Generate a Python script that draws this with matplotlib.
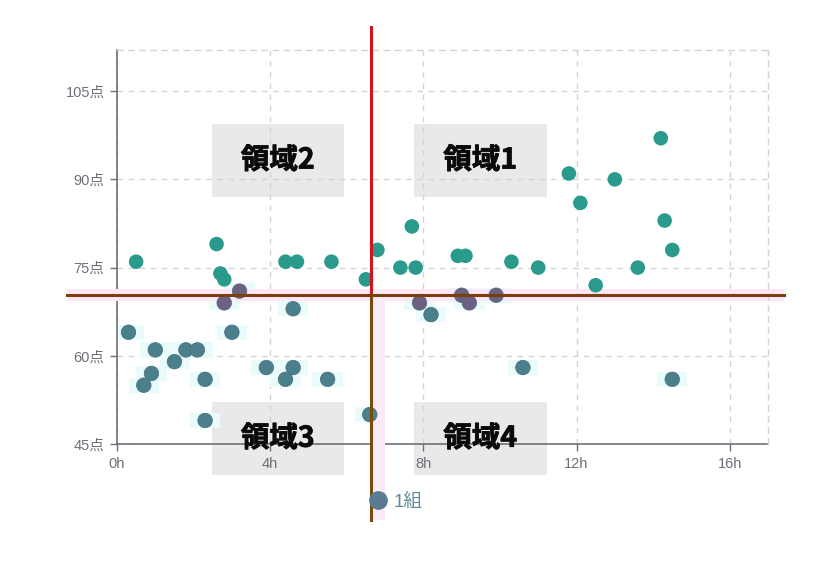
import matplotlib
matplotlib.use('Agg')
import matplotlib.pyplot as plt
import matplotlib.patheffects as pe
from matplotlib.lines import Line2D
from matplotlib.patches import Rectangle
from matplotlib.path import Path
import numpy as np

plt.rcParams['font.family'] = ['Liberation Sans', 'Noto Sans CJK JP', 'DejaVu Sans']

# ---- data ----
upper_x = [0.5, 2.6, 2.7, 2.8, 4.4, 4.7, 5.6, 6.5, 6.8, 7.4, 7.7, 7.8, 8.9, 9.1,
           10.3, 11.0, 11.8, 12.1, 12.5, 13.0, 13.6, 14.2, 14.3, 14.5]
upper_y = [76, 79, 74, 73, 76, 76, 76, 73, 78, 75, 82, 75, 77, 77,
           76, 75, 91, 86, 72, 90, 75, 97, 83, 78]
lower_x = [0.3, 0.7, 0.9, 1.0, 1.5, 1.8, 2.1, 2.3, 2.3, 2.8, 3.0, 3.2, 3.9, 4.4,
           4.6, 4.6, 5.5, 6.6, 7.9, 8.2, 9.0, 9.2, 9.9, 10.6, 14.5]
lower_y = [64, 55, 57, 61, 59, 61, 61, 56, 49, 69, 64, 71, 58, 56,
           68, 58, 56, 50, 69, 67, 70.3, 69, 70.3, 58, 56]
x_ticks = [0, 4, 8, 12, 16]
x_labels = ['0h', '4h', '8h', '12h', '16h']
y_ticks = [45, 60, 75, 90, 105]
y_labels = ['45点', '60点', '75点', '90点', '105点']
mean_x = 6.62
mean_y = 70.3
region_names = ['領域1', '領域2', '領域3', '領域4']
series_name = '1組'

# ---- layout ----
W, H = 821, 569
fig = plt.figure(figsize=(W / 100, H / 100), dpi=100)
L, B, R, T = 117, 444, 768, 50
ax = fig.add_axes([L / W, 1 - B / H, (R - L) / W, (B - T) / H])
ax.set_xlim(0, 17)
ax.set_ylim(45, 112)

axis_col = '#6e7079'
for s in ['top', 'right']:
    ax.spines[s].set_linestyle((0, (4, 4)))
    ax.spines[s].set_color('#d4d4d4')
    ax.spines[s].set_linewidth(1)
for s in ['left', 'bottom']:
    ax.spines[s].set_color(axis_col)
    ax.spines[s].set_linewidth(1.2)
    ax.spines[s].set_zorder(2)

ax.set_xticks(x_ticks)
ax.set_xticklabels(x_labels)
ax.set_yticks(y_ticks)
ax.set_yticklabels(y_labels)
ax.tick_params(axis='both', colors=axis_col, labelsize=10.5, length=5, width=1, direction='out')
ax.tick_params(axis='x', pad=4)
ax.tick_params(axis='y', pad=4)
ax.set_axisbelow(True)
ax.grid(True, linestyle=(0, (4, 4)), color='#d4d4d4', linewidth=1, zorder=1)

# region boxes (x0, x1, y0, y1) in data units
boxes = {
    '領域2': (2.48, 5.92, 87.0, 99.4),
    '領域1': (7.75, 11.22, 87.0, 99.4),
    '領域3': (2.48, 5.92, 39.7, 52.1),
    '領域4': (7.75, 11.22, 39.7, 52.1),
}
for name in region_names:
    x0, x1, y0, y1 = boxes[name]
    ax.add_patch(Rectangle((x0, y0), x1 - x0, y1 - y0, facecolor='#e9e9e9',
                           edgecolor='none', zorder=0.5, clip_on=False))
    ax.text((x0 + x1) / 2, (y0 + y1) / 2, name, ha='center', va='center',
            fontsize=20.5, fontweight='bold', color='#0a0a0a', zorder=6, clip_on=False,
            family=['Noto Sans CJK JP', 'DejaVu Sans'],
            path_effects=[pe.withStroke(linewidth=0.6, foreground='#0a0a0a')])

# faint cyan halo rectangles behind lower points
rect_marker = Path([(-1, -0.5), (1, -0.5), (1, 0.5), (-1, 0.5), (-1, -0.5)],
                   [Path.MOVETO, Path.LINETO, Path.LINETO, Path.LINETO, Path.CLOSEPOLY])
ax.scatter(lower_x, lower_y, s=480, marker=rect_marker, color='#e9fcfb',
           edgecolors='none', zorder=2)

# pink bands
ax.axhspan(mean_y - 1.0, mean_y + 1.0, xmin=-0.077, xmax=1.025, color='#fde6f8',
           zorder=2.5, clip_on=False, lw=0)
ax.add_patch(Rectangle((mean_x, 32.0), 0.37, mean_y + 1.0 - 32.0, facecolor='#fdeaf9',
                       edgecolor='none', zorder=2.5, clip_on=False))

# points
ax.scatter(upper_x, upper_y, s=110, color='#2a9a8c', edgecolors='none', zorder=4)
lower_cols = ['#6c6183' if y >= 68.5 else '#4a808b' for y in lower_y]
ax.scatter(lower_x, lower_y, s=110, color=lower_cols, edgecolors='#4a6a7c',
           linewidths=0.5, zorder=4)

# mean lines
ax.plot([mean_x, mean_x], [mean_y, 115.9], color='#d4141c', lw=2.2, zorder=5, clip_on=False)
ax.plot([mean_x, mean_x], [32.0, mean_y], color='#7a4a0a', lw=2.2, zorder=5, clip_on=False)
ax.plot([-1.31, 17.43], [mean_y, mean_y], color='#7a3f0a', lw=2.2, zorder=5, clip_on=False)

# legend
handle = Line2D([], [], marker='o', linestyle='none', markersize=13.5,
                markerfacecolor='#5b7b92', markeredgecolor='none')
leg = fig.legend([handle], [series_name], loc='center left',
                 bbox_to_anchor=(357 / W, 1 - 502 / H), frameon=False,
                 handletextpad=0.25, borderpad=0, fontsize=13.5, handlelength=1.2)
for t in leg.get_texts():
    t.set_color('#5f8d9c')
    t.set_family(['Liberation Sans', 'Noto Sans CJK JP'])

fig.savefig('out.png', dpi=100)
